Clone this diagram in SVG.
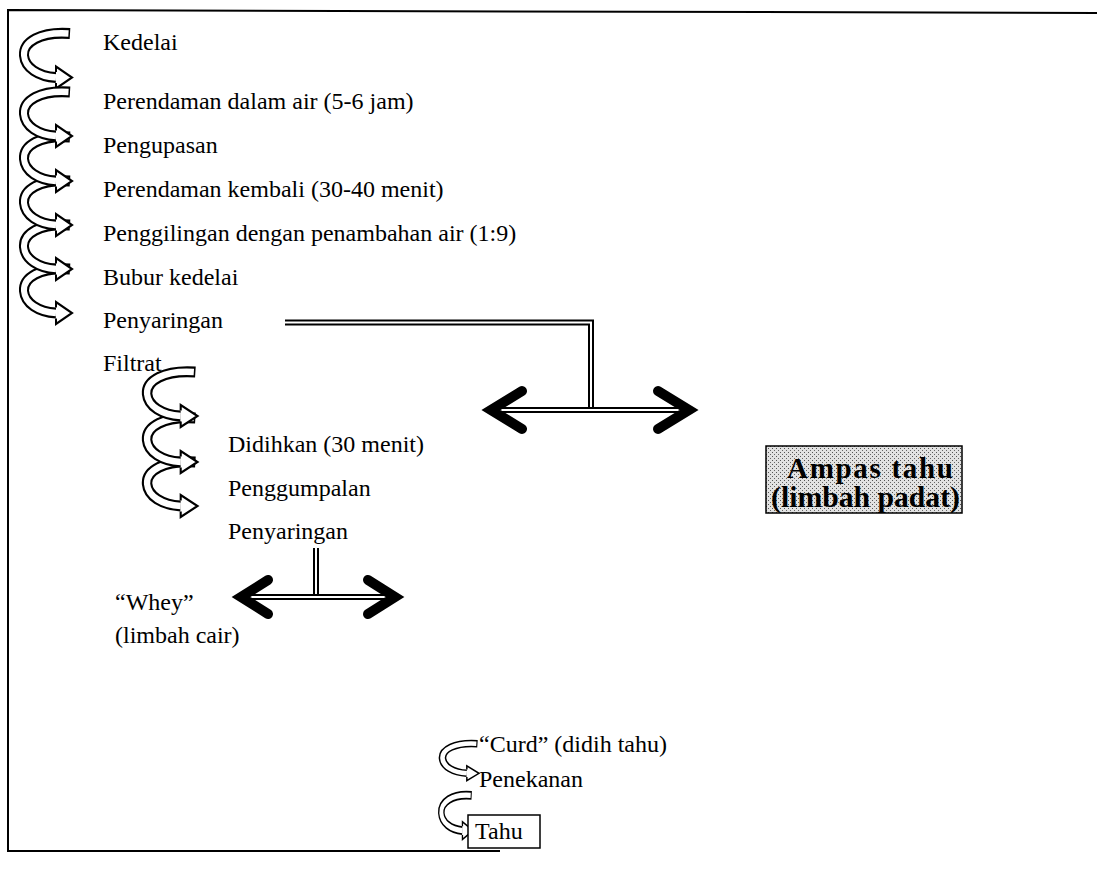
<svg xmlns="http://www.w3.org/2000/svg" width="1097" height="875" viewBox="0 0 1097 875">
<defs>
<style>
text{font-family:"Liberation Serif","Times New Roman","DejaVu Serif",serif;font-size:24px;fill:#000}
.b{font-weight:bold;font-size:29px}
.dl{fill:none;stroke:#000;stroke-width:6}
.dw{fill:none;stroke:#fff;stroke-width:2}
.chev{fill:none;stroke:#000;stroke-width:10;stroke-linecap:round;stroke-linejoin:miter}
.bo{fill:none;stroke:#000;stroke-width:10}
.bi{fill:none;stroke:#fff;stroke-width:6}
.hd{fill:#fff;stroke:#000;stroke-width:2;stroke-linejoin:miter}
</style>
<pattern id="stip" width="4" height="4" patternUnits="userSpaceOnUse">
<rect width="4" height="4" fill="#e2e2e2"/>
<rect x="0" y="0" width="1" height="1" fill="#555"/>
<rect x="2" y="2" width="1" height="1" fill="#666"/>
</pattern>
<g id="carrow">
<path class="bo" d="M48,5 C18,3 1,13 2,25 C3,36 16,44 34,45"/>
<path class="bi" d="M46.5,5 C18,3.2 1,13 2,25 C3,36 16,44 34,45"/>
<path class="hd" d="M34,40 L34,35 L50,45 L34,55 L34,50"/>
</g>
</defs>
<rect width="1097" height="875" fill="#fff"/>
<g id="frame">
<path d="M500,851 H8 V10 L1097,13" fill="none" stroke="#000" stroke-width="2"/>
</g>
<g id="connectors">
<use href="#carrow" transform="translate(22,28) scale(1,1.1)"/>
<use href="#carrow" transform="translate(22,263.5) scale(1,1.1)"/>
<use href="#carrow" transform="translate(22,219.5) scale(1,1.1)"/>
<use href="#carrow" transform="translate(22,175.5) scale(1,1.1)"/>
<use href="#carrow" transform="translate(22,131.5) scale(1,1.1)"/>
<use href="#carrow" transform="translate(22,86.5) scale(1,1.1)"/>
<use href="#carrow" transform="translate(145,456.5) scale(1.05,1.1)"/>
<use href="#carrow" transform="translate(145,412.5) scale(1.05,1.1)"/>
<use href="#carrow" transform="translate(145,366.5) scale(1.05,1.1)"/>
<use href="#carrow" transform="translate(440,791) scale(0.66,0.88)"/>
<use href="#carrow" transform="translate(441,740) scale(0.76,0.74)"/>
<path class="dl" d="M285,322.5 H591 V409"/>
<path class="dw" d="M285,322.5 H591 V409"/>
<path class="dl" d="M494,410 H686"/>
<path class="dw" d="M494,410 H686"/>
<path class="chev" d="M522,391 L491,410 L522,429"/>
<path class="chev" d="M658,391 L689,410 L658,429"/>
<path class="dl" d="M316,548 V596"/>
<path class="dw" d="M316,548 V596"/>
<path class="dl" d="M244,597 H392"/>
<path class="dw" d="M244,597 H392"/>
<path class="chev" d="M268,580 L241,597 L268,614"/>
<path class="chev" d="M368,580 L395,597 L368,614"/>
</g>
<g id="n-kedelai"><text x="103" y="50">Kedelai</text></g>
<g id="n-perendaman"><text x="103" y="109">Perendaman dalam air (5-6 jam)</text></g>
<g id="n-pengupasan"><text x="103" y="153">Pengupasan</text></g>
<g id="n-perendaman2"><text x="103" y="197">Perendaman kembali (30-40 menit)</text></g>
<g id="n-penggilingan"><text x="103" y="241">Penggilingan dengan penambahan air (1:9)</text></g>
<g id="n-bubur"><text x="103" y="285">Bubur kedelai</text></g>
<g id="n-penyaringan1"><text x="103" y="328">Penyaringan</text></g>
<g id="n-filtrat"><text x="103" y="371">Filtrat</text></g>
<g id="n-ampas">
<rect x="766" y="446" width="196" height="67" fill="url(#stip)" stroke="#000" stroke-width="1.5"/>
<text class="b" x="787" y="478" textLength="166" lengthAdjust="spacing">Ampas tahu</text>
<text class="b" x="771" y="507" textLength="189" lengthAdjust="spacingAndGlyphs">(limbah padat)</text>
</g>
<g id="n-didihkan"><text x="228" y="452">Didihkan (30 menit)</text></g>
<g id="n-penggumpalan"><text x="228" y="496">Penggumpalan</text></g>
<g id="n-penyaringan2"><text x="228" y="539">Penyaringan</text></g>
<g id="n-whey"><text x="115" y="610">“Whey”</text><text x="115" y="643">(limbah cair)</text></g>
<g id="n-curd"><text x="479" y="752">“Curd” (didih tahu)</text></g>
<g id="n-penekanan"><text x="479" y="787">Penekanan</text></g>
<g id="n-tahu">
<rect x="468" y="815" width="72" height="33" fill="#fff" stroke="#000" stroke-width="1.5"/>
<text x="475" y="839">Tahu</text>
</g>
</svg>
